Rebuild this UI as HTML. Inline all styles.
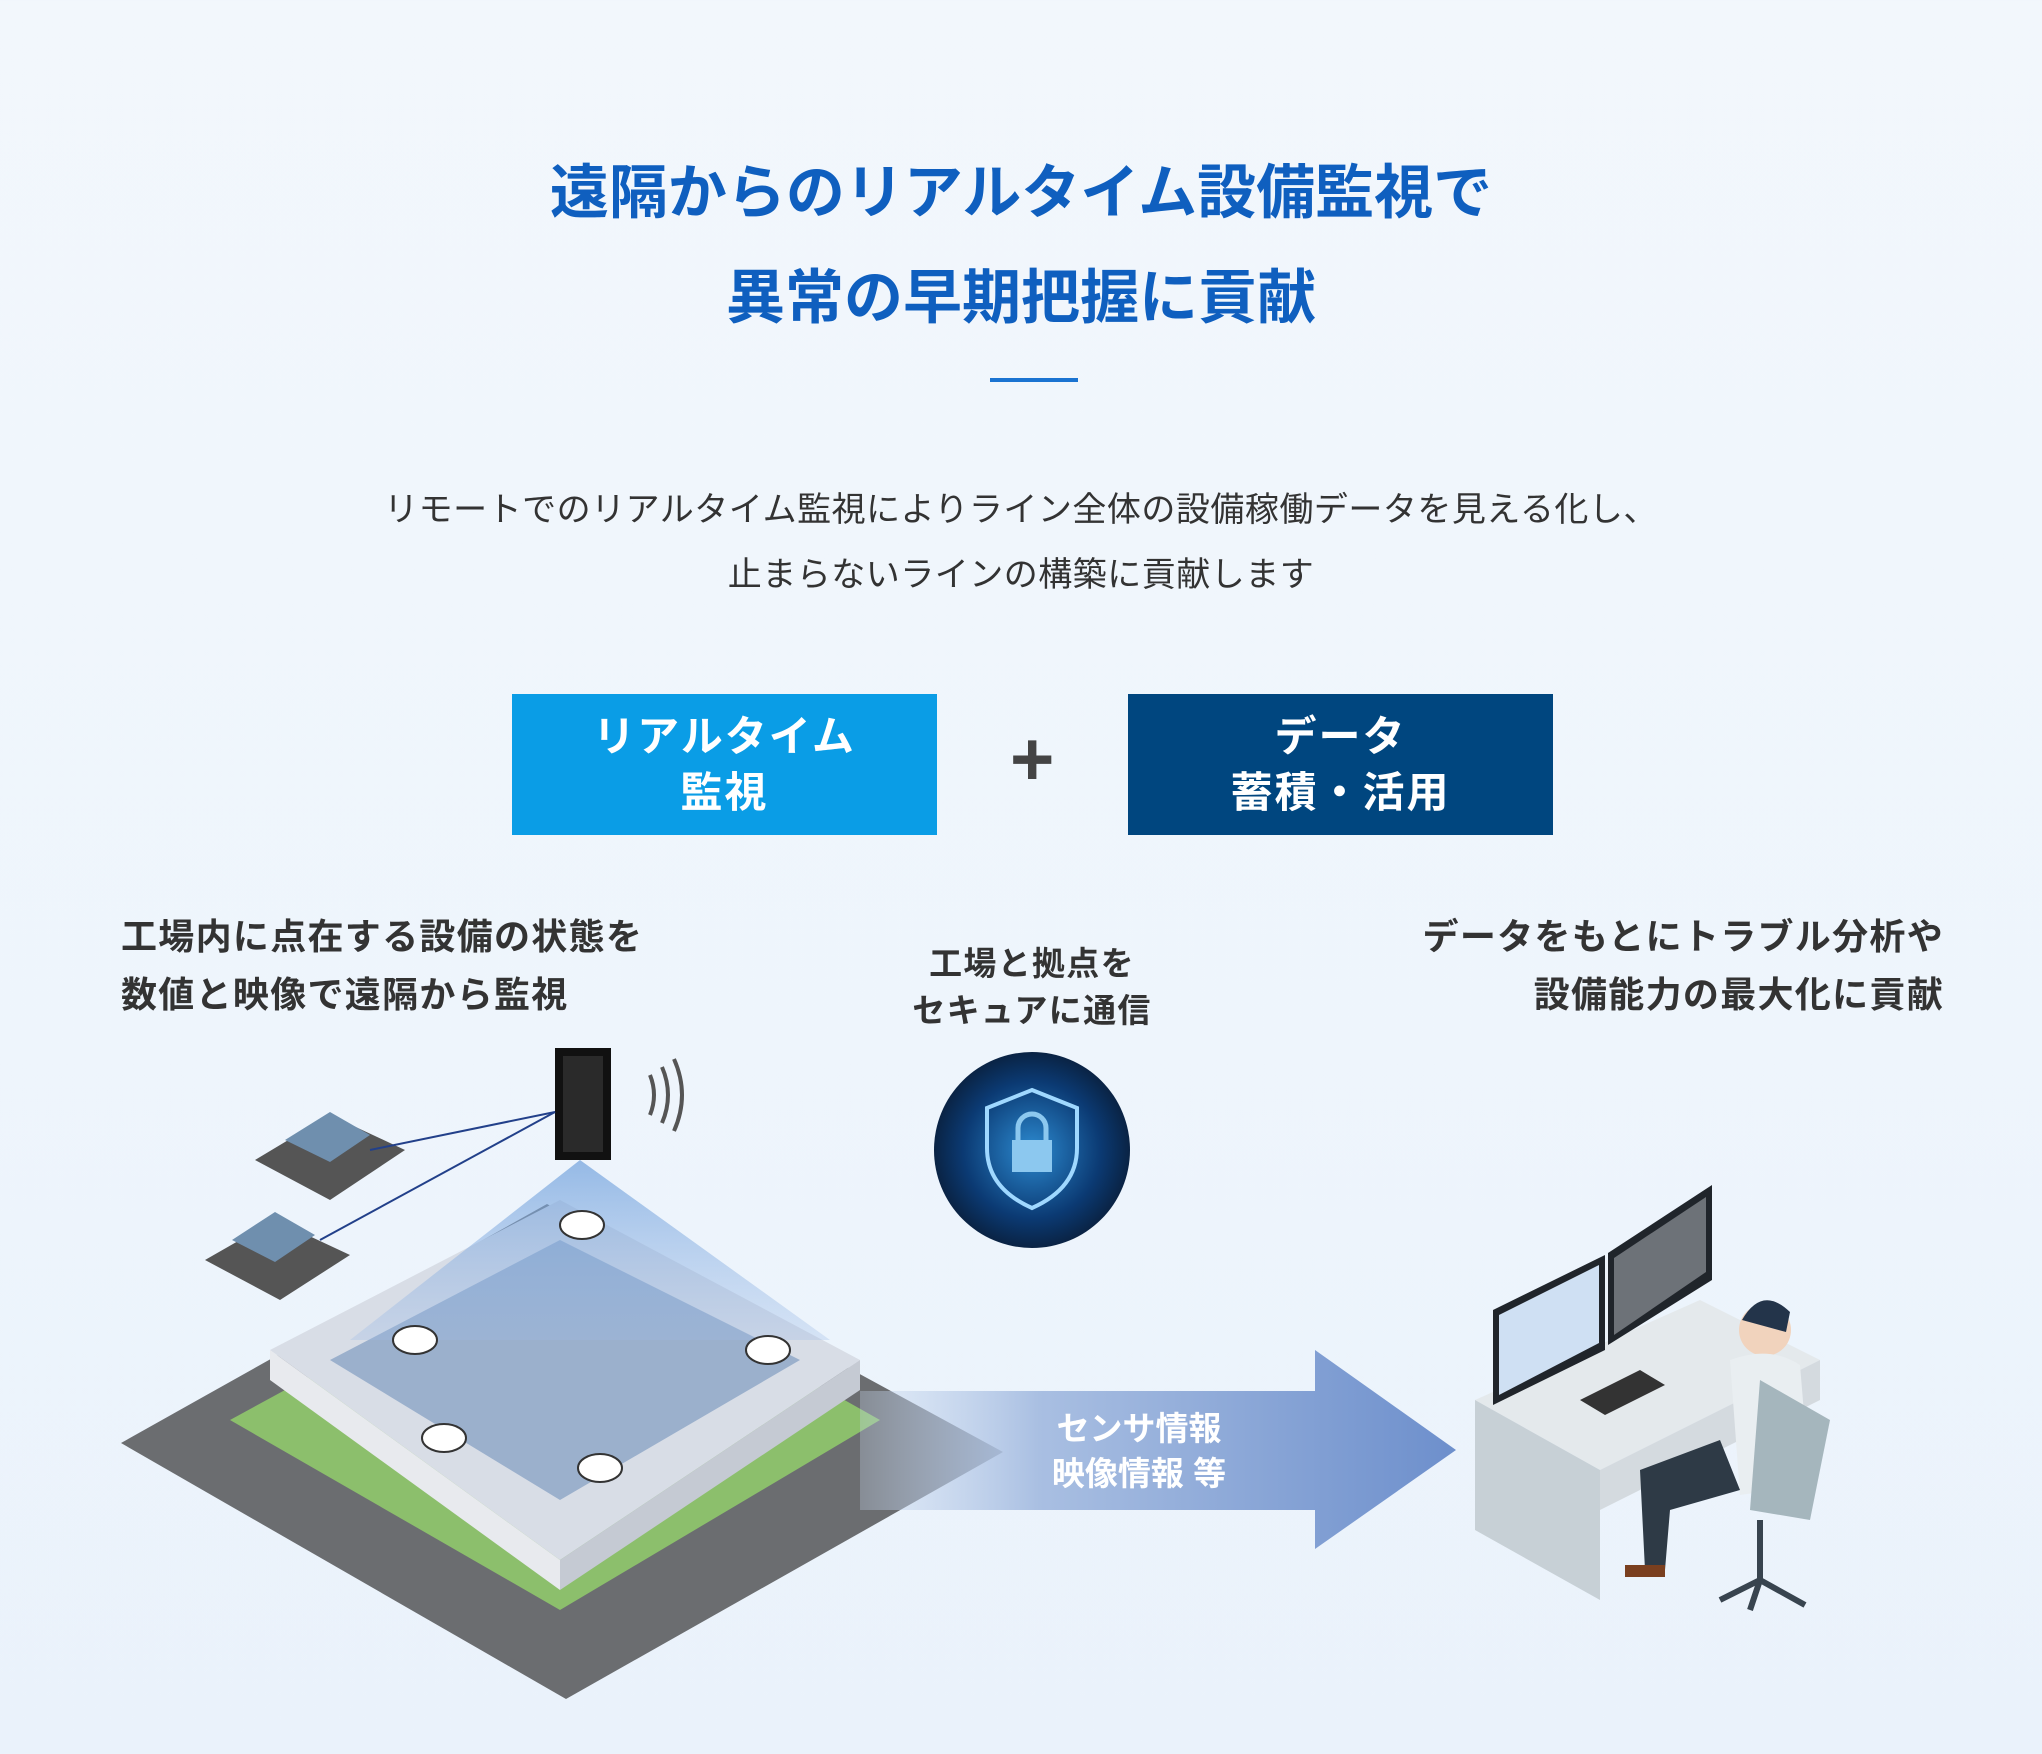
<!DOCTYPE html>
<html><head><meta charset="utf-8">
<style>
html,body{margin:0;padding:0}
body{width:2042px;height:1754px;position:relative;overflow:hidden;background:linear-gradient(180deg,#f2f7fc 0%,#eef5fc 60%,#eaf2fb 100%);font-family:"Liberation Sans","Noto Sans CJK JP",sans-serif;}
.t{position:absolute;white-space:nowrap}
.c{left:0;width:2042px;text-align:center}
.title{color:#0f5fbf;font-size:59px;font-weight:700;letter-spacing:0px}
.p{color:#333;font-size:34px;letter-spacing:0.5px}
.box{position:absolute;top:694px;height:141px;width:425px;color:#fff;font-weight:700;font-size:42px;text-align:center;line-height:56px;display:flex;flex-direction:column;justify-content:center;letter-spacing:2px}
.h{color:#333;font-size:36px;font-weight:700;line-height:58px;letter-spacing:1.3px}
</style></head><body>
<div class="t c title" style="top:145px">遠隔からのリアルタイム設備監視で</div>
<div class="t c title" style="top:250px">異常の早期把握に貢献</div>
<div style="position:absolute;left:990px;top:378px;width:88px;height:4px;background:#1a73d1"></div>
<div class="t c p" style="top:482px">リモートでのリアルタイム監視によりライン全体の設備稼働データを見える化し、</div>
<div class="t c p" style="top:547px">止まらないラインの構築に貢献します</div>
<div class="box" style="left:512px;background:#0a9de6">リアルタイム<br>監視</div>
<div class="t" style="left:1010px;top:720px;font-size:76px;font-weight:700;color:#444;line-height:80px">+</div>
<div class="box" style="left:1128px;background:#00467f">データ<br>蓄積・活用</div>
<div class="t h" style="left:121px;top:908px">工場内に点在する設備の状態を<br>数値と映像で遠隔から監視</div>
<div class="t h" style="right:98px;top:908px;text-align:right">データをもとにトラブル分析や<br>設備能力の最大化に貢献</div>
<div class="t h" style="left:0;width:2064px;text-align:center;top:940px;font-size:33px;line-height:47px">工場と拠点を<br>セキュアに通信</div>
<svg width="2042" height="1754" style="position:absolute;left:0;top:0">
<defs>
<linearGradient id="ag" x1="0" x2="1"><stop offset="0" stop-color="#c8d8ee" stop-opacity="0.3"/><stop offset="0.3" stop-color="#a9bfe2"/><stop offset="1" stop-color="#6d8fcc"/></linearGradient>
<radialGradient id="gl"><stop offset="0" stop-color="#2c8ad0"/><stop offset="0.7" stop-color="#0b3a73"/><stop offset="1" stop-color="#0a2344"/></radialGradient>
<linearGradient id="cone" x1="0" y1="0" x2="0" y2="1"><stop offset="0" stop-color="#6fa0dc" stop-opacity="0.7"/><stop offset="1" stop-color="#9dbbe6" stop-opacity="0.3"/></linearGradient>
</defs>
<polygon points="121,1443 547,1204 1003,1452 566,1699" fill="#6b6d70"/>
<polygon points="230,1420 560,1240 880,1420 560,1610" fill="#8cbf6c"/>
<polygon points="270,1350 560,1200 860,1360 560,1560" fill="#d8dde6"/>
<polygon points="330,1360 560,1240 800,1360 560,1500" fill="#9bb0cc"/>
<polygon points="270,1350 560,1560 560,1590 270,1380" fill="#e8eaee"/>
<polygon points="560,1560 860,1360 860,1390 560,1590" fill="#c5cad3"/>
<polygon points="580,1160 350,1340 830,1340" fill="url(#cone)"/>
<rect x="555" y="1048" width="56" height="112" fill="#111"/>
<rect x="563" y="1056" width="40" height="96" fill="#2a2a2a"/>
<path d="M650 1075 q8 20 0 40 M662 1067 q12 28 0 56 M674 1059 q16 36 0 72" stroke="#555" stroke-width="4" fill="none"/>
<polygon points="255,1160 330,1115 405,1150 330,1200" fill="#555"/>
<polygon points="285,1140 330,1112 370,1135 330,1162" fill="#6f8fae"/>
<polygon points="205,1260 275,1220 350,1255 280,1300" fill="#555"/>
<polygon points="232,1240 275,1212 315,1235 275,1262" fill="#6f8fae"/>
<line x1="555" y1="1112" x2="370" y2="1150" stroke="#22408a" stroke-width="2"/>
<line x1="555" y1="1112" x2="320" y2="1240" stroke="#22408a" stroke-width="2"/>
<g fill="#fff" stroke="#333" stroke-width="2"><ellipse cx="582" cy="1225" rx="22" ry="14"/><ellipse cx="415" cy="1340" rx="22" ry="14"/><ellipse cx="768" cy="1350" rx="22" ry="14"/><ellipse cx="444" cy="1438" rx="22" ry="14"/><ellipse cx="600" cy="1468" rx="22" ry="14"/></g>
<polygon points="860,1391 1315,1391 1315,1350 1456,1450 1315,1549 1315,1510 860,1510" fill="url(#ag)"/>
<text x="1139" y="1440" fill="#fff" font-size="33" font-weight="700" text-anchor="middle" font-family="Liberation Sans,Noto Sans CJK JP,sans-serif">センサ情報</text>
<text x="1139" y="1485" fill="#fff" font-size="33" font-weight="700" text-anchor="middle" font-family="Liberation Sans,Noto Sans CJK JP,sans-serif">映像情報 等</text>
<circle cx="1032" cy="1150" r="98" fill="url(#gl)"/>
<path d="M1032 1090 l45 18 v40 q0 40 -45 60 q-45 -20 -45 -60 v-40z" fill="none" stroke="#9fd8ff" stroke-width="4"/>
<rect x="1012" y="1140" width="40" height="32" fill="#8cc8ef"/>
<path d="M1018 1140 v-12 a14 14 0 0 1 28 0 v12" fill="none" stroke="#8cc8ef" stroke-width="5"/>
<polygon points="1475,1400 1700,1300 1820,1360 1600,1470" fill="#e4e9ec"/>
<polygon points="1475,1400 1600,1470 1600,1600 1475,1530" fill="#c7d0d6"/>
<polygon points="1600,1470 1820,1360 1820,1400 1600,1510" fill="#d4dadf"/>
<polygon points="1493,1310 1605,1255 1605,1350 1493,1405" fill="#20252b"/>
<polygon points="1499,1315 1599,1265 1599,1343 1499,1395" fill="#cfe0f3"/>
<polygon points="1608,1253 1712,1185 1712,1280 1608,1345" fill="#20252b"/>
<polygon points="1614,1258 1706,1197 1706,1272 1614,1335" fill="#6d7278"/>
<polygon points="1580,1400 1640,1370 1665,1385 1605,1415" fill="#333"/>
<circle cx="1765" cy="1330" r="26" fill="#f1d3bd"/>
<path d="M1742 1320 q20 -35 48 -8 l-4 20 z" fill="#23344a"/>
<path d="M1730 1360 q40 -15 70 5 l10 120 l-70 10 z" fill="#e9eef1"/>
<polygon points="1640,1470 1720,1440 1740,1490 1670,1510 1665,1570 1645,1570" fill="#2e3a46"/>
<polygon points="1760,1380 1830,1420 1810,1520 1750,1510" fill="#a5b6bd"/>
<path d="M1760 1520 v60 M1720 1600 l40 -20 l45 25 M1760 1580 l-10 30" stroke="#38444f" stroke-width="6" fill="none"/>
<rect x="1625" y="1565" width="40" height="12" fill="#7a3f1f"/>
</svg>
</body></html>
